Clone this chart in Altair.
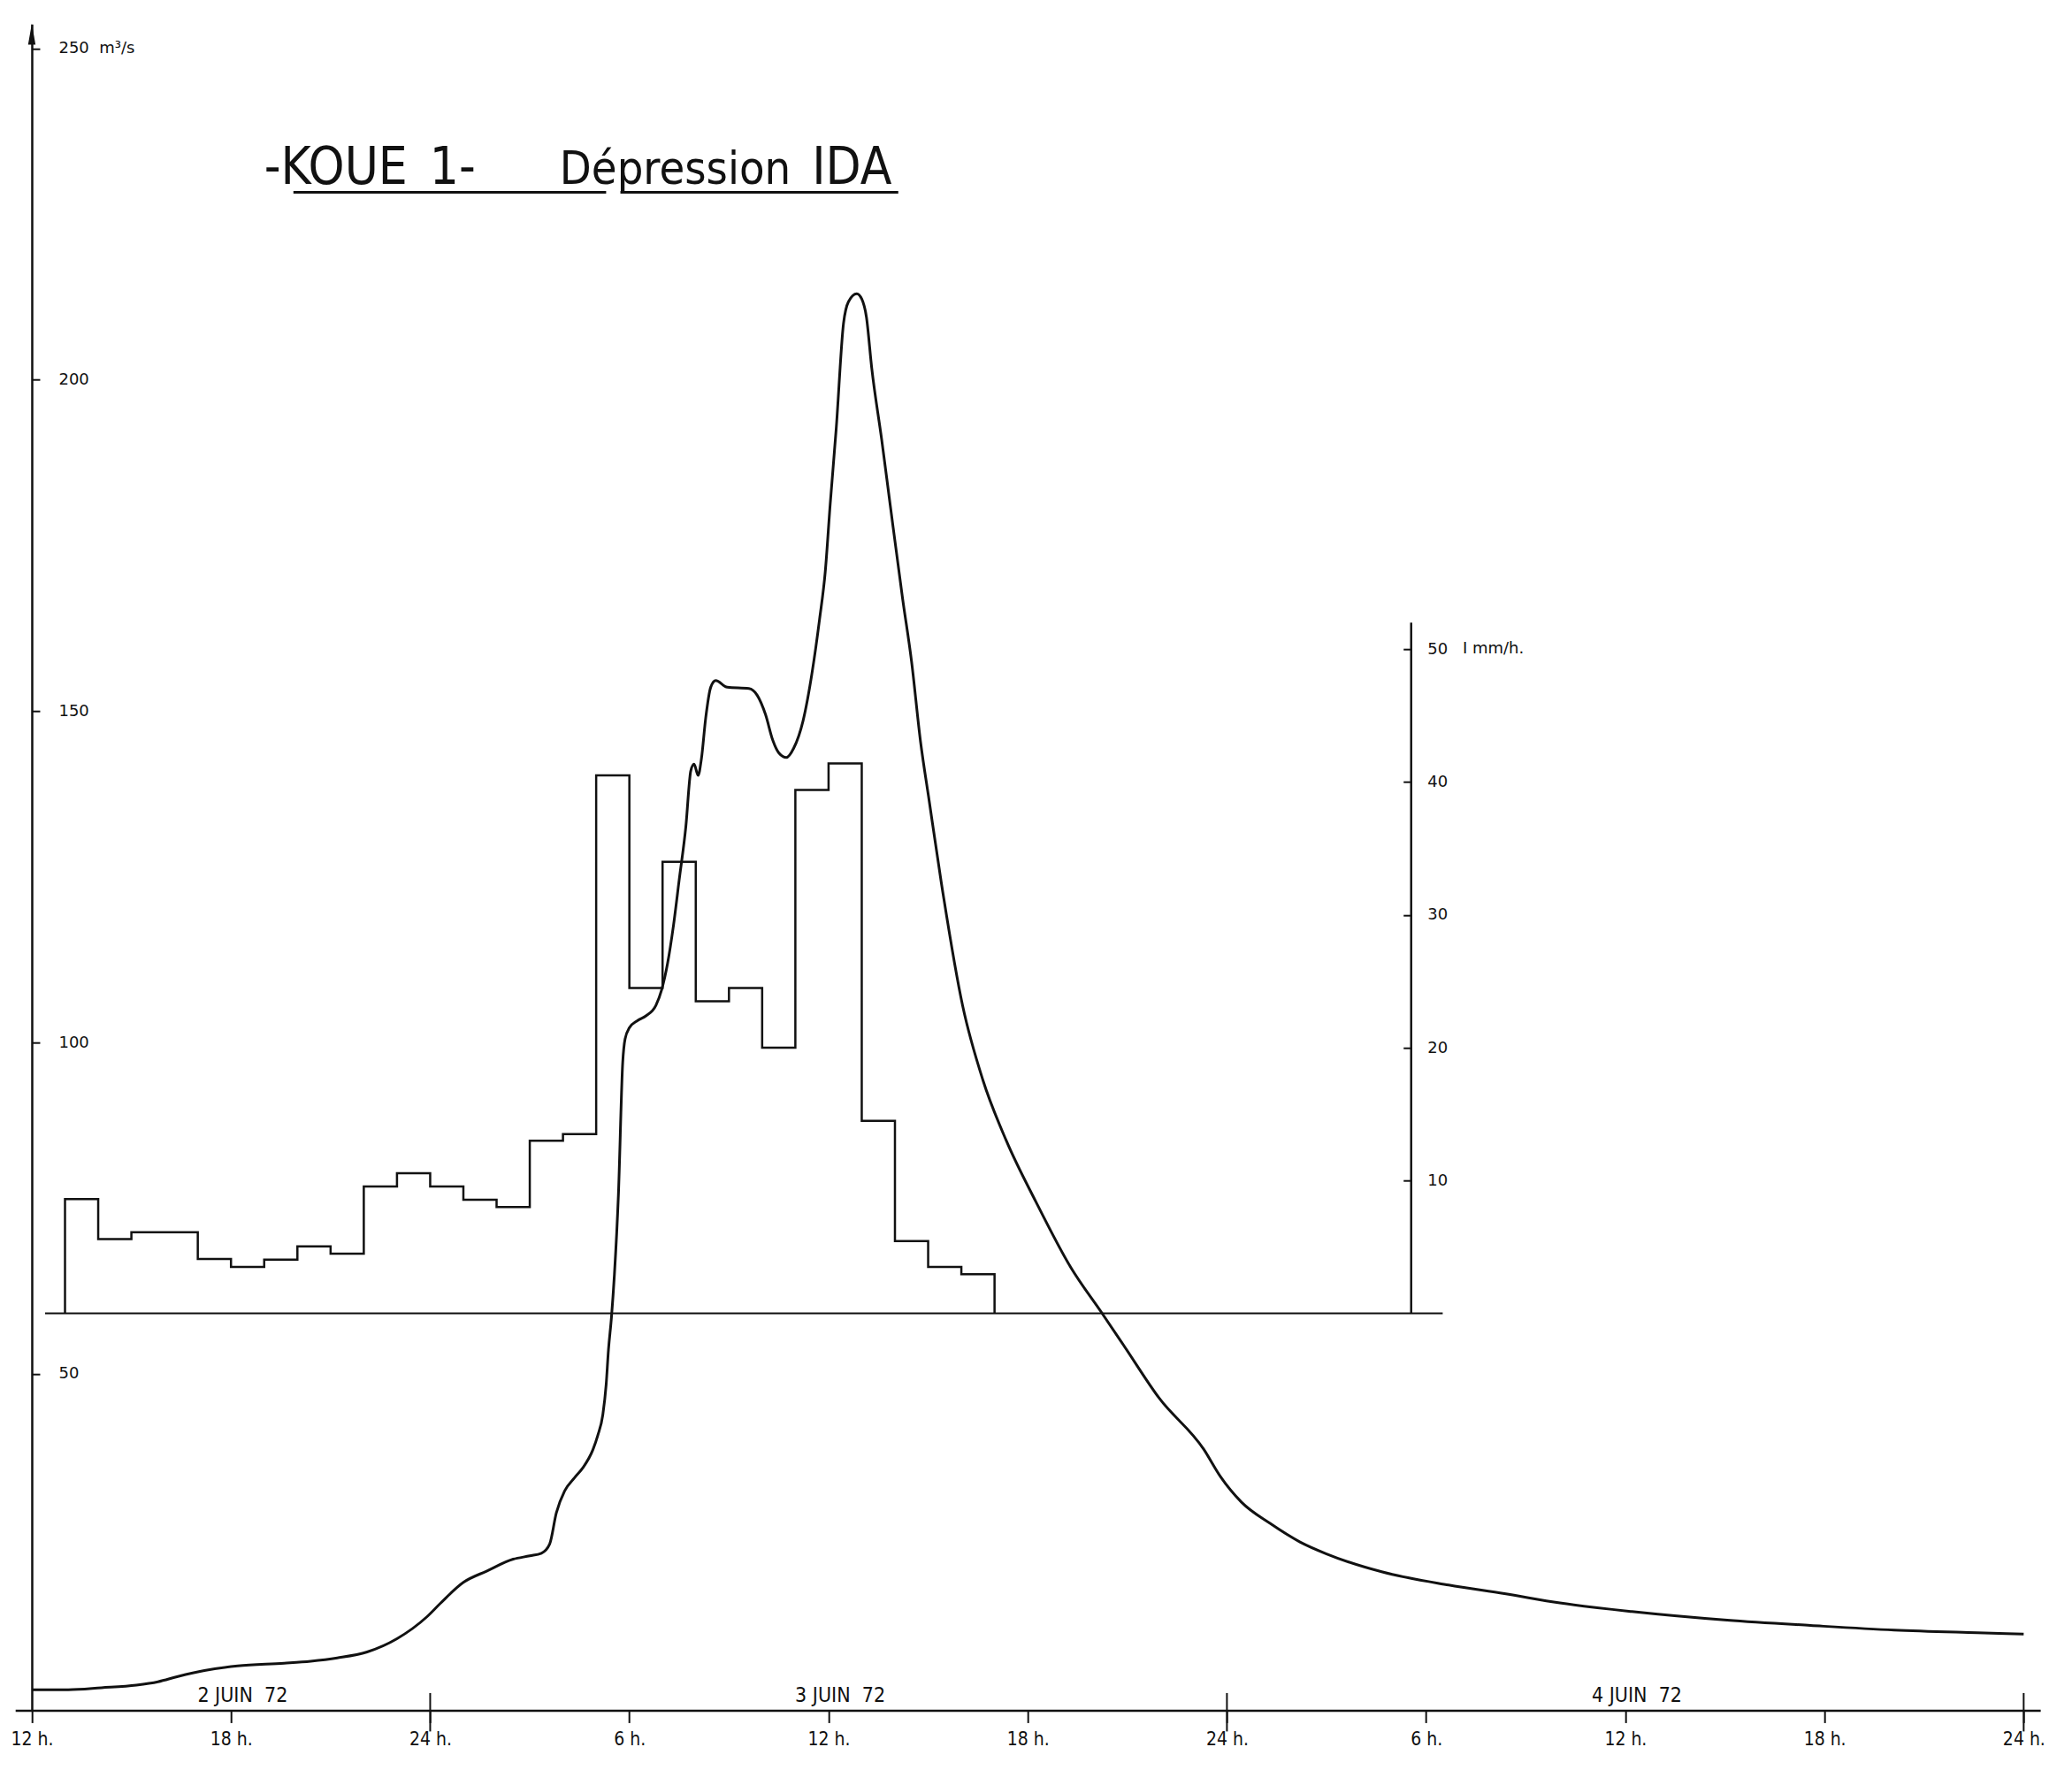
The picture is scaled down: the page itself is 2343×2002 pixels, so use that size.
import json
import altair as alt
import pandas as pd

# ---------------- data ----------------
# Hydrograph (hours after 12h on 2 June 1972, discharge m3/s)
Q_HOURS = [0.0, 1.1, 2.1, 3.15, 3.8, 4.4, 5.2, 6.2, 7.6, 8.4, 9.2, 10.1, 11.0, 11.9,
           12.3, 13.0, 13.7, 14.5, 15.0, 15.35, 15.6, 15.8, 16.05, 16.35, 16.6, 16.9,
           17.05, 17.2, 17.3, 17.37, 17.46, 17.55, 17.67, 17.8, 17.87, 18.0, 18.25,
           18.5, 18.8, 18.97, 19.15, 19.33, 19.5, 19.7, 19.85, 19.95, 20.07, 20.17,
           20.3, 20.45, 20.6, 20.95, 21.6, 21.85, 22.1, 22.32, 22.5, 22.73, 22.95,
           23.23, 23.5, 23.73, 23.9, 24.05, 24.23, 24.45, 24.6, 24.85, 25.0, 25.14,
           25.3, 25.6, 25.86, 26.23, 26.5, 26.77, 27.03, 27.4, 28.04, 28.65, 29.36,
           30.25, 31.3, 32.24, 32.9, 33.96, 35.3, 35.8, 36.44, 37.3, 38.2, 39.0,
           40.66, 42.68, 44.36, 46.03, 48.2, 51.07, 53.58, 56.1, 58.6, 60.0]
Q_VALUES = [2.3, 2.3, 2.6, 3.0, 3.5, 4.3, 5.2, 5.9, 6.3, 6.6, 7.1, 8.0, 10.0, 13.3,
            15.3, 18.5, 20.2, 22.0, 22.5, 22.9, 24.3, 29.0, 32.3, 34.3, 35.8, 38.5,
            40.7, 43.8, 48.3, 53.6, 58.5, 65.0, 77.0, 97.0, 100.5, 102.2, 103.3,
            104.0, 105.6, 107.9, 111.9, 117.7, 124.5, 132.5, 141.0, 142.0, 140.3, 142.8,
            149.0, 153.6, 154.6, 153.6, 153.4, 152.4, 149.5, 145.6, 143.7, 143.0, 144.4,
            148.5, 155.7, 163.9, 171.0, 181.3, 192.6, 208.5, 211.8, 213.0, 212.2, 209.5,
            201.8, 191.0, 181.0, 167.0, 157.5, 145.4, 136.5, 124.0, 105.5, 94.3, 85.1,
            75.9, 66.0, 59.1, 54.2, 46.3, 38.6, 34.5, 30.6, 27.4, 24.6, 22.8,
            20.1, 18.1, 16.8, 15.4, 14.1, 12.8, 12.0, 11.3, 10.9, 10.7]

# Hourly rainfall intensity (mm/h), each bar starts at the given hour
RAIN_START_HOURS = list(range(1, 29))
RAIN_VALUES = [8.6, 5.6, 6.1, 6.1, 4.1, 3.5, 4.05, 5.05, 4.5, 9.55, 10.55, 9.55, 8.55, 8.0,
               13.0, 13.5, 40.5, 24.5, 34.0, 23.5, 24.5, 20.0, 39.4, 41.4, 14.5, 5.45, 3.5, 2.95]

X_TICKS = [0, 6, 12, 18, 24, 30, 36, 42, 48, 54, 60]
X_TICK_LABELS = ["12 h.", "18 h.", "24 h.", "6 h.", "12 h.", "18 h.", "24 h.",
                 "6 h.", "12 h.", "18 h.", "24 h."]
Q_TICKS = [50, 100, 150, 200, 250]
RAIN_TICKS = [10, 20, 30, 40, 50]
DAY_BOUNDS = [0, 12, 36, 60]
DAY_LABELS = ["2 JUIN\u00a0\u00a072", "3 JUIN\u00a0\u00a072", "4 JUIN\u00a0\u00a072"]
TITLE_WORDS = ["-KOUE", "1-", "Dépression", "IDA"]
Q_UNIT = "m³/s"
RAIN_UNIT = "I mm/h."

# ---------------- layout / scales ----------------
PX_H = 37.54          # pixels per hour
PX_Q = 7.494          # pixels per m3/s
X_DOMAIN = [-0.5, 60.5]
Q_DOMAIN = [-0.8, 253.7]
RAIN_ZERO_Q = 59.1    # rain baseline drawn at this discharge level
Q_PER_MM = 2.005      # 1 mm/h spans this many m3/s units
RAIN_DOMAIN = [(Q_DOMAIN[0] - RAIN_ZERO_Q) / Q_PER_MM, (Q_DOMAIN[1] - RAIN_ZERO_Q) / Q_PER_MM]
RAIN_AXIS_H = 41.55
DAY_LABEL_SHIFT = 0.35

W = (X_DOMAIN[1] - X_DOMAIN[0]) * PX_H
H = (Q_DOMAIN[1] - Q_DOMAIN[0]) * PX_Q
PLOT_LEFT = 36 - (0 - X_DOMAIN[0]) * PX_H
PLOT_TOP = 1928.4 - Q_DOMAIN[1] * PX_Q
PAD = {"left": round(PLOT_LEFT - 8, 1), "top": round(PLOT_TOP - 8, 1), "right": 18, "bottom": 52}

INK = "#111111"
NARROW = "Liberation Sans Narrow, DejaVu Sans Condensed, Arial Narrow, sans-serif"
TITLE_FONT = "DejaVu Sans Condensed, Liberation Sans, sans-serif"
PLOTTER = "DejaVu Sans, Verdana, sans-serif"

x_scale = alt.Scale(domain=X_DOMAIN, nice=False, zero=False)
q_scale = alt.Scale(domain=Q_DOMAIN, nice=False, zero=False)
r_scale = alt.Scale(domain=RAIN_DOMAIN, nice=False, zero=False)


def xd(v):
    return alt.XDatum(v, type="quantitative", scale=x_scale)


def qd(v):
    return alt.YDatum(v, type="quantitative", scale=q_scale)


def rd(v):
    return alt.YDatum(v, type="quantitative", scale=r_scale)


q_df = pd.DataFrame({"hour": Q_HOURS, "Q": Q_VALUES})

rain_rows = [{"hour": RAIN_START_HOURS[0], "rain": 0.0}]
rain_rows += [{"hour": h, "rain": r} for h, r in zip(RAIN_START_HOURS, RAIN_VALUES)]
rain_rows += [{"hour": RAIN_START_HOURS[-1] + 1, "rain": 0.0}]
rain_df = pd.DataFrame(rain_rows)

day_df = pd.DataFrame({
    "label": DAY_LABELS,
    "mid": [(DAY_BOUNDS[i] + DAY_BOUNDS[i + 1]) / 2 + DAY_LABEL_SHIFT for i in range(len(DAY_LABELS))],
})
bound_df = pd.DataFrame({"hour": DAY_BOUNDS[1:]})

x_label_expr = f"{json.dumps(X_TICK_LABELS)}[indexof({json.dumps(X_TICKS)}, datum.value)]"

x_axis = alt.Axis(values=X_TICKS, labelExpr=x_label_expr, title=None, grid=False,
                  domainColor=INK, domainWidth=2.5, tickColor=INK, tickWidth=2, tickSize=14,
                  labelFont=NARROW, labelFontSize=21, labelColor=INK, labelPadding=8,
                  labelFlush=False, labelOverlap=False)

q_axis = alt.Axis(orient="right", offset=(0 - X_DOMAIN[0]) * PX_H - W, values=Q_TICKS,
                  labelExpr=f"datum.value == 250 ? '250\u00a0\u00a0{Q_UNIT}' : datum.label",
                  title=None, grid=False, domainColor=INK, domainWidth=2.5,
                  tickColor=INK, tickWidth=2, tickSize=9, labelPadding=21,
                  labelFont=PLOTTER, labelFontSize=18, labelColor=INK,
                  labelBaseline="middle", labelFlush=False, labelOverlap=False)

rain_axis = alt.Axis(orient="left", offset=-(RAIN_AXIS_H - X_DOMAIN[0]) * PX_H, values=RAIN_TICKS,
                     title=None, grid=False, domain=False, tickColor=INK, tickWidth=2, tickSize=9,
                     labelAlign="left", labelPadding=-27, labelBaseline="middle",
                     labelFont=PLOTTER, labelFontSize=18, labelColor=INK,
                     labelFlush=False, labelOverlap=False)

# ---------------- discharge group ----------------
q_line = alt.Chart(q_df).mark_line(interpolate="monotone", strokeWidth=3, color=INK).encode(
    x=alt.X("hour:Q", scale=x_scale, axis=x_axis),
    y=alt.Y("Q:Q", scale=q_scale, axis=q_axis),
)

arrow = alt.Chart().mark_point(shape="M0,-1L0.3,0.7L-0.3,0.7Z", filled=True, size=784,
                               color=INK, opacity=1).encode(x=xd(0), y=qd(251.9))

bound_ticks = alt.Chart(bound_df).mark_rule(color=INK, strokeWidth=2).encode(
    x=alt.X("hour:Q", scale=x_scale), y=qd(-4.0), y2=alt.Y2Datum(1.8))

day_text = alt.Chart(day_df).mark_text(font=NARROW, fontSize=23, color=INK, align="center",
                                       baseline="alphabetic").encode(
    x=alt.X("mid:Q", scale=x_scale), y=qd(0.4), text="label:N")

TITLE_X = [7.0, 11.98, 15.9, 23.5]
TITLE_SIZE = [58, 58, 52, 58]
title_layers = [
    alt.Chart().mark_text(text=w, font=TITLE_FONT, fontSize=fs, color=INK, align="left",
                          baseline="alphabetic").encode(x=xd(tx), y=qd(229.6))
    for w, tx, fs in zip(TITLE_WORDS, TITLE_X, TITLE_SIZE)
]
underline = [
    alt.Chart().mark_rule(color=INK, strokeWidth=3).encode(x=xd(a), x2=alt.X2Datum(b), y=qd(228.3))
    for a, b in [(7.88, 17.3), (17.73, 26.1)]
]

q_group = alt.layer(q_line, arrow, bound_ticks, day_text, *title_layers, *underline)

# ---------------- rainfall group ----------------
rain_line = alt.Chart(rain_df).mark_line(interpolate="step-after", strokeWidth=2.5, color=INK).encode(
    x=alt.X("hour:Q", scale=x_scale),
    y=alt.Y("rain:Q", scale=r_scale, axis=rain_axis),
)
rain_base = alt.Chart().mark_rule(color=INK, strokeWidth=2).encode(
    x=xd(0.4), x2=alt.X2Datum(42.5), y=rd(0))
rain_axis_line = alt.Chart().mark_rule(color=INK, strokeWidth=2.5).encode(
    x=xd(RAIN_AXIS_H), y=rd(0), y2=alt.Y2Datum(52))
rain_unit = alt.Chart().mark_text(text=RAIN_UNIT, font=PLOTTER, fontSize=18, color=INK,
                                  align="left", baseline="middle").encode(x=xd(43.1), y=rd(50))

rain_group = alt.layer(rain_line, rain_base, rain_axis_line, rain_unit)

chart = alt.layer(q_group, rain_group).resolve_scale(y="independent").properties(
    width=W, height=H, padding=PAD, autosize=alt.AutoSizeParams(type="none"),
    background="white",
).configure_view(stroke=None)

chart.save("out.html", embed_options={"renderer": "svg", "actions": False})
